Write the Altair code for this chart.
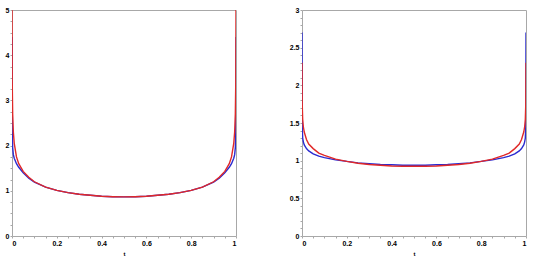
import altair as alt
import pandas as pd

x_vals = [0, 0.001, 0.003, 0.006, 0.01, 0.02, 0.03, 0.05, 0.075, 0.1, 0.15, 0.2, 0.25, 0.3, 0.35,
          0.4, 0.45, 0.5, 0.55, 0.6, 0.65, 0.7, 0.75, 0.8, 0.85, 0.9, 0.925, 0.95, 0.97, 0.98,
          0.99, 0.994, 0.997, 0.999, 1]

left_red = [5.0, 3.4, 2.7, 2.3, 2.05, 1.75, 1.6, 1.43, 1.3, 1.2, 1.08, 1.01, 0.96, 0.925, 0.9,
            0.88, 0.87, 0.865, 0.87, 0.88, 0.9, 0.925, 0.96, 1.01, 1.08, 1.2, 1.3, 1.43, 1.6, 1.75,
            2.05, 2.3, 2.7, 3.4, 5.0]
left_blue = [4.4, 2.3, 1.95, 1.8, 1.72, 1.6, 1.52, 1.4, 1.28, 1.19, 1.08, 1.01, 0.96, 0.925, 0.9,
             0.88, 0.87, 0.865, 0.87, 0.88, 0.9, 0.925, 0.96, 1.01, 1.08, 1.19, 1.28, 1.4, 1.52, 1.6,
             1.72, 1.8, 1.95, 2.3, 4.4]

right_red = [2.3, 1.75, 1.55, 1.45, 1.38, 1.28, 1.22, 1.16, 1.1, 1.07, 1.02, 0.99, 0.965, 0.95, 0.94,
             0.93, 0.925, 0.925, 0.925, 0.93, 0.94, 0.95, 0.965, 0.99, 1.02, 1.07, 1.1, 1.16, 1.22, 1.28,
             1.38, 1.45, 1.55, 1.75, 2.3]
right_blue = [2.7, 1.45, 1.3, 1.25, 1.21, 1.16, 1.13, 1.09, 1.06, 1.04, 1.01, 0.99, 0.97, 0.96, 0.95,
              0.945, 0.94, 0.94, 0.94, 0.945, 0.95, 0.96, 0.97, 0.99, 1.01, 1.04, 1.06, 1.09, 1.13, 1.16,
              1.21, 1.25, 1.3, 1.45, 2.7]

x_ticks = [i / 20 for i in range(21)]
left_y_ticks = [i / 4 for i in range(21)]
right_y_ticks = [i / 10 for i in range(31)]


def make_df(red, blue):
    rows = []
    for xv, yv in zip(x_vals, blue):
        rows.append({"t": xv, "y": yv, "s": "blue", "o": 0})
    for xv, yv in zip(x_vals, red):
        rows.append({"t": xv, "y": yv, "s": "red", "o": 1})
    return pd.DataFrame(rows)


x_label_expr = ("abs(datum.value*5 - round(datum.value*5)) < 1e-6 ? format(datum.value, '~g') : ''")


def panel(df, ymax, yticks, ylabel_expr):
    return alt.Chart(df).mark_line(strokeWidth=1.4, clip=True).encode(
        x=alt.X("t:Q", scale=alt.Scale(domain=[0, 1], nice=False, zero=False),
                axis=alt.Axis(values=x_ticks, labelExpr=x_label_expr, title="t",
                              titleFontSize=6, titlePadding=4)),
        y=alt.Y("y:Q", scale=alt.Scale(domain=[0, ymax], nice=False),
                axis=alt.Axis(values=yticks, labelExpr=ylabel_expr, title=None,
                              minExtent=11, maxExtent=11)),
        color=alt.Color("s:N", scale=alt.Scale(domain=["blue", "red"], range=["#2a2ad0", "#e02828"]),
                        legend=None),
        order="o:Q",
    ).properties(width=224, height=226)


left = panel(make_df(left_red, left_blue), 5, left_y_ticks,
             "abs(datum.value - round(datum.value)) < 1e-6 ? format(datum.value, '~g') : ''")
right = panel(make_df(right_red, right_blue), 3, right_y_ticks,
              "abs(datum.value*2 - round(datum.value*2)) < 1e-6 ? format(datum.value, '~g') : ''")

chart = alt.hconcat(left, right, spacing=51).properties(
    padding={"left": 0, "top": 5, "right": 0, "bottom": 0}
).configure_view(stroke="#a8a8a8", strokeWidth=1).configure_axis(
    domain=False, grid=False, tickColor="#a8a8a8", tickSize=2, tickWidth=1,
    labelFont="Liberation Sans", labelFontSize=7, labelFontWeight="bold", labelColor="#000000",
    labelPadding=1, titleFont="Liberation Sans", titleFontWeight="bold",
)

chart.save("out.html", embed_options={"renderer": "svg", "actions": False})
